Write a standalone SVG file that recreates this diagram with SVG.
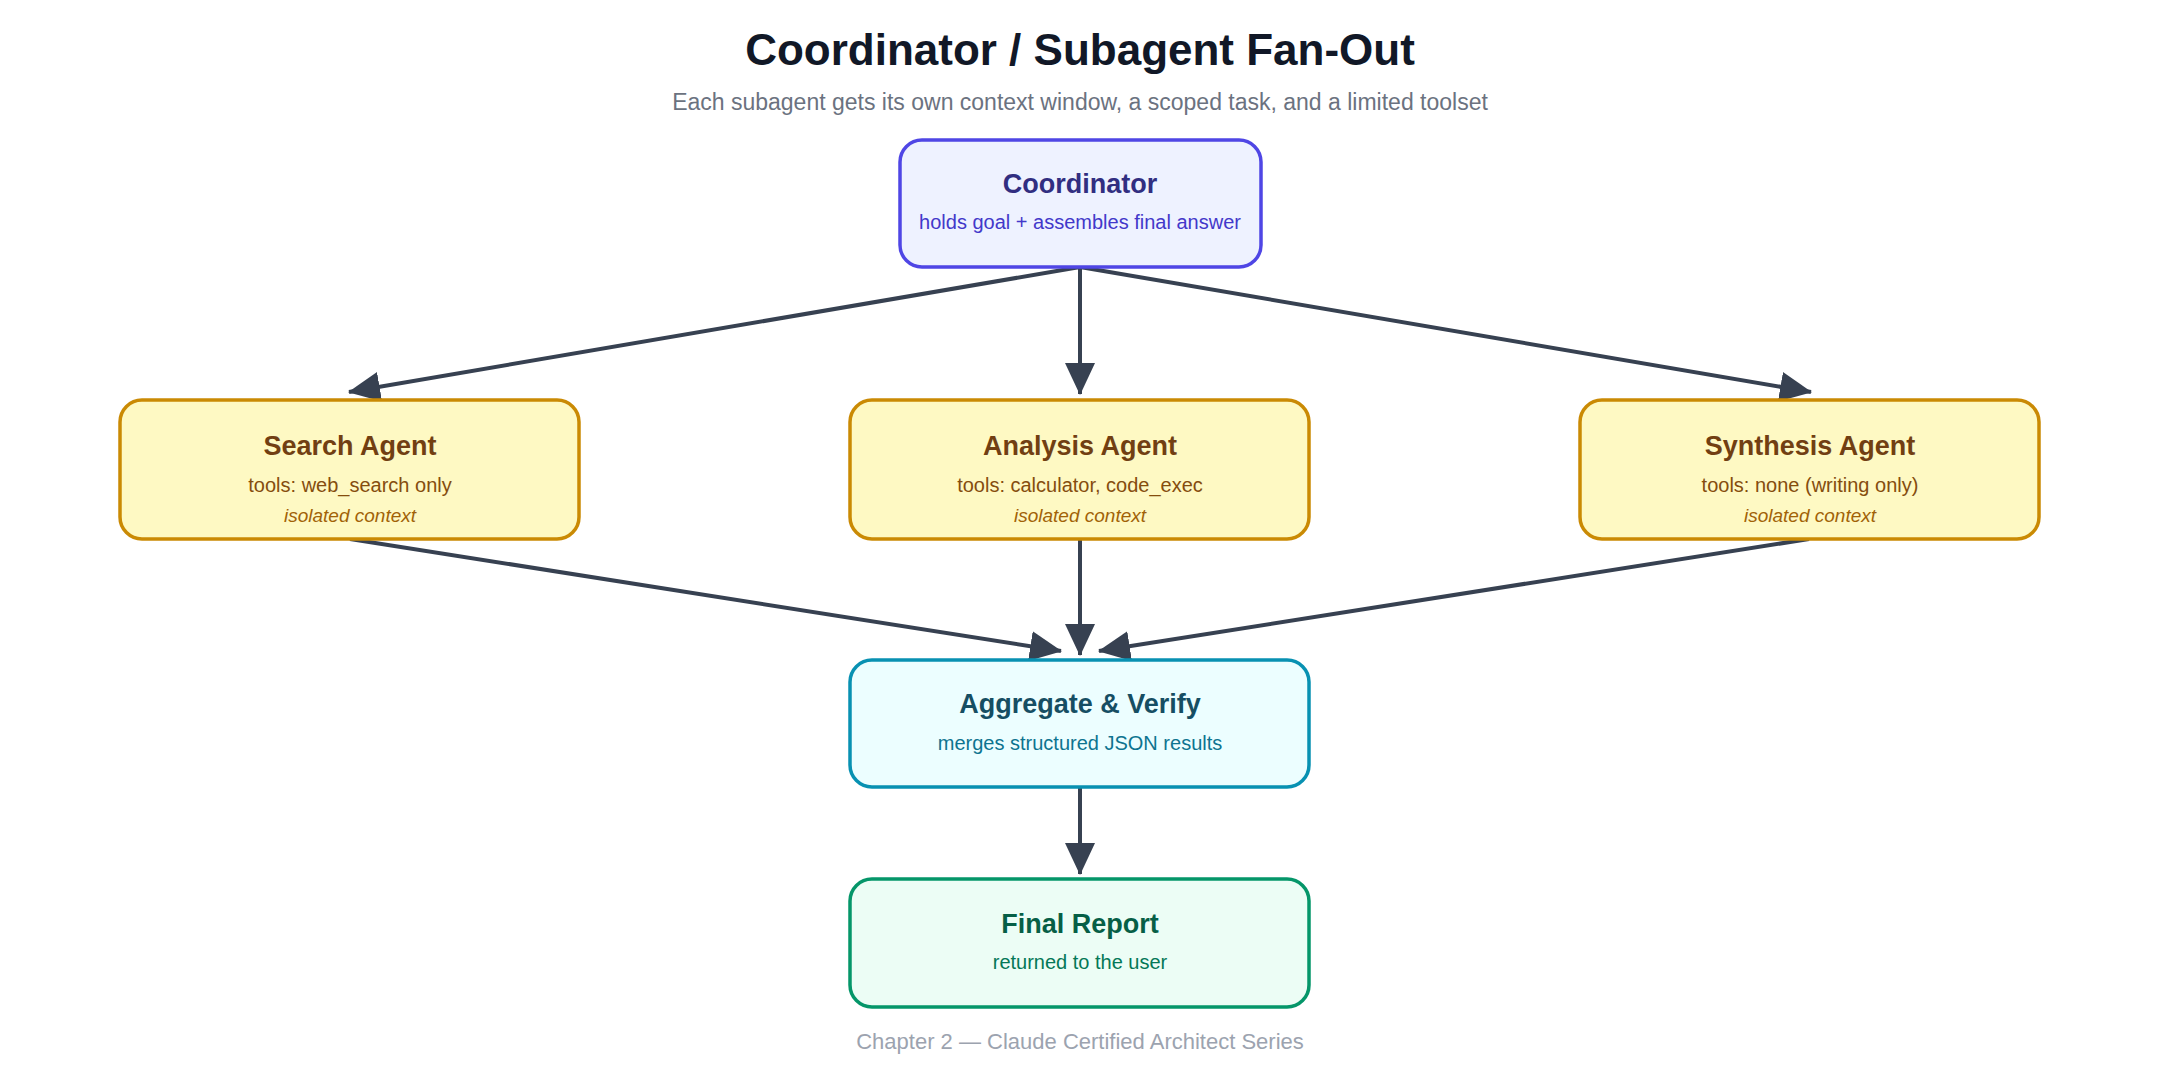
<svg xmlns="http://www.w3.org/2000/svg" width="2160" height="1080" viewBox="0 0 2160 1080">
<style>
text{font-family:"Liberation Sans",Arial,sans-serif;text-anchor:middle}
.t{font-size:27px;font-weight:bold}
.s{font-size:20px}
.i{font-size:19px;font-style:italic;fill:#a16207}
.ag rect{fill:#fef9c3;stroke:#ca8a04}
.ag .t{fill:#713f12}.ag .s{fill:#854d0e}
rect{stroke-width:3.5}
.c line{stroke:#374151;stroke-width:4;marker-end:url(#a)}
</style>
<defs><marker id="a" markerUnits="userSpaceOnUse" markerWidth="32" markerHeight="32" viewBox="0 0 32 32" refX="31" refY="16" orient="auto"><path d="M0,1 L32,16 L0,31 Z" fill="#374151"/></marker></defs>
<rect width="2160" height="1080" fill="#fff"/>
<text x="1080" y="65" style="font-size:44px;font-weight:bold;fill:#111827">Coordinator / Subagent Fan-Out</text>
<text x="1080" y="110" style="font-size:23px;fill:#6b7280">Each subagent gets its own context window, a scoped task, and a limited toolset</text>
<g class="c">
<line x1="1080" y1="267" x2="349" y2="392"/>
<line x1="1080" y1="267" x2="1080" y2="394"/>
<line x1="1080" y1="267" x2="1811" y2="392"/>
<line x1="350" y1="539" x2="1061" y2="651"/>
<line x1="1080" y1="539" x2="1080" y2="655"/>
<line x1="1809" y1="539" x2="1099" y2="651"/>
<line x1="1080" y1="787" x2="1080" y2="874"/>
</g>
<g id="coordinator"><rect x="900" y="140" width="361" height="127" rx="22" fill="#eef2ff" stroke="#4f46e5"/>
<text class="t" x="1080" y="193" fill="#312e81">Coordinator</text>
<text class="s" x="1080" y="229" fill="#4338ca">holds goal + assembles final answer</text></g>
<g id="search" class="ag"><rect x="120" y="400" width="459" height="139" rx="22"/>
<text class="t" x="350" y="455">Search Agent</text><text class="s" x="350" y="492">tools: web_search only</text><text class="i" x="350" y="522">isolated context</text></g>
<g id="analysis" class="ag"><rect x="850" y="400" width="459" height="139" rx="22"/>
<text class="t" x="1080" y="455">Analysis Agent</text><text class="s" x="1080" y="492">tools: calculator, code_exec</text><text class="i" x="1080" y="522">isolated context</text></g>
<g id="synthesis" class="ag"><rect x="1580" y="400" width="459" height="139" rx="22"/>
<text class="t" x="1810" y="455">Synthesis Agent</text><text class="s" x="1810" y="492">tools: none (writing only)</text><text class="i" x="1810" y="522">isolated context</text></g>
<g id="aggregate"><rect x="850" y="660" width="459" height="127" rx="22" fill="#ecfeff" stroke="#0891b2"/>
<text class="t" x="1080" y="713" fill="#164e63">Aggregate &amp; Verify</text>
<text class="s" x="1080" y="750" fill="#0e7490">merges structured JSON results</text></g>
<g id="final"><rect x="850" y="879" width="459" height="128" rx="22" fill="#ecfdf5" stroke="#059669"/>
<text class="t" x="1080" y="933" fill="#065f46">Final Report</text>
<text class="s" x="1080" y="969" fill="#047857">returned to the user</text></g>
<text x="1080" y="1049" style="font-size:22px;fill:#9ca3af">Chapter 2 — Claude Certified Architect Series</text>
</svg>
